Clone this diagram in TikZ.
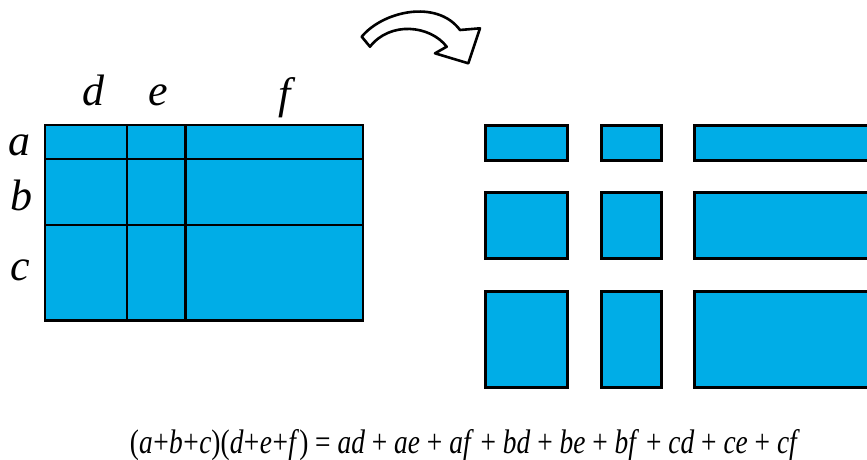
\documentclass[tikz,border=0pt]{standalone}
\usepackage{fontspec}
\setmainfont{Liberation Serif}[ItalicFont={Liberation Serif Italic}]
\usepackage{graphicx}
\definecolor{tile}{RGB}{0,173,231}
\newcommand\tp{\kern0.5pt+\kern0.5pt}
\begin{document}
\begin{tikzpicture}[x=1pt,y=-1pt,
  cell/.style={draw=black,fill=tile,line width=2.7pt,inner sep=0pt,outer sep=0pt},
  piece/.style={draw=black,fill=tile,line width=2.9pt,inner sep=0pt,outer sep=0pt},
  lab/.style={anchor=base,inner sep=0pt,font=\fontsize{44}{48}\selectfont\itshape},
  arrowshape/.style={draw=black,fill=white,line width=2.6pt,line join=round}]
\useasboundingbox (0,0) rectangle (867,459);
\clip (0,0) rectangle (867,459);
% left grid cells: columns d,e,f; rows a,b,c
\node[cell,minimum width=82pt,minimum height=34pt] (ad) at (86,142) {};
\node[cell,minimum width=58.5pt,minimum height=34pt] (ae) at (156.3,142) {};
\node[cell,minimum width=177.5pt,minimum height=34pt] (af) at (274.3,142) {};
\node[cell,minimum width=82pt,minimum height=66pt] (bd) at (86,192) {};
\node[cell,minimum width=58.5pt,minimum height=66pt] (be) at (156.3,192) {};
\node[cell,minimum width=177.5pt,minimum height=66pt] (bf) at (274.3,192) {};
\node[cell,minimum width=82pt,minimum height=95.5pt] (cd) at (86,272.8) {};
\node[cell,minimum width=58.5pt,minimum height=95.5pt] (ce) at (156.3,272.8) {};
\node[cell,minimum width=177.5pt,minimum height=95.5pt] (cf) at (274.3,272.8) {};
% labels
\node[lab] (ld) at (93,105) {d};
\node[lab] (le) at (158,105) {e};
\node[lab] (lf) at (285,108) {f};
\node[lab] (la) at (20,155) {a};
\node[lab] (lb) at (21,210) {b};
\node[lab] (lc) at (20,280) {c};
% separated pieces
\node[piece,minimum width=82pt,minimum height=34.5pt] (pad) at (526.5,142.8) {};
\node[piece,minimum width=60pt,minimum height=34.5pt] (pae) at (631.5,142.8) {};
\node[piece,minimum width=177.5pt,minimum height=34.5pt] (paf) at (783,142.8) {};
\node[piece,minimum width=82pt,minimum height=66pt] (pbd) at (526.5,225.3) {};
\node[piece,minimum width=60pt,minimum height=66pt] (pbe) at (631.5,225.3) {};
\node[piece,minimum width=177.5pt,minimum height=66pt] (pbf) at (783,225.3) {};
\node[piece,minimum width=82pt,minimum height=96pt] (pcd) at (526.5,339.3) {};
\node[piece,minimum width=60pt,minimum height=96pt] (pce) at (631.5,339.3) {};
\node[piece,minimum width=177.5pt,minimum height=96pt] (pcf) at (783,339.3) {};
% curved arrow
\draw[arrowshape] (361.7,36.7) .. controls (383,11) and (437,-1) .. (460,30)
  -- (480,28.3) -- (468.3,63.3) -- (435,53.3) -- (446.7,46.7)
  .. controls (430,25) and (390,21) .. (370,46.7) -- cycle;
% formula
\node[inner sep=0pt,anchor=base] (formula) at (465,453) {\resizebox{670pt}{24pt}{\fontsize{30}{34}\selectfont
(\textit{a}\tp\textit{b}\tp\textit{c})(\textit{d}\tp\textit{e}\tp\textit{f}) = \textit{ad} + \textit{ae} + \textit{af} + \textit{bd} + \textit{be} + \textit{bf} + \textit{cd} + \textit{ce} + \textit{cf}}};
\end{tikzpicture}
\end{document}
